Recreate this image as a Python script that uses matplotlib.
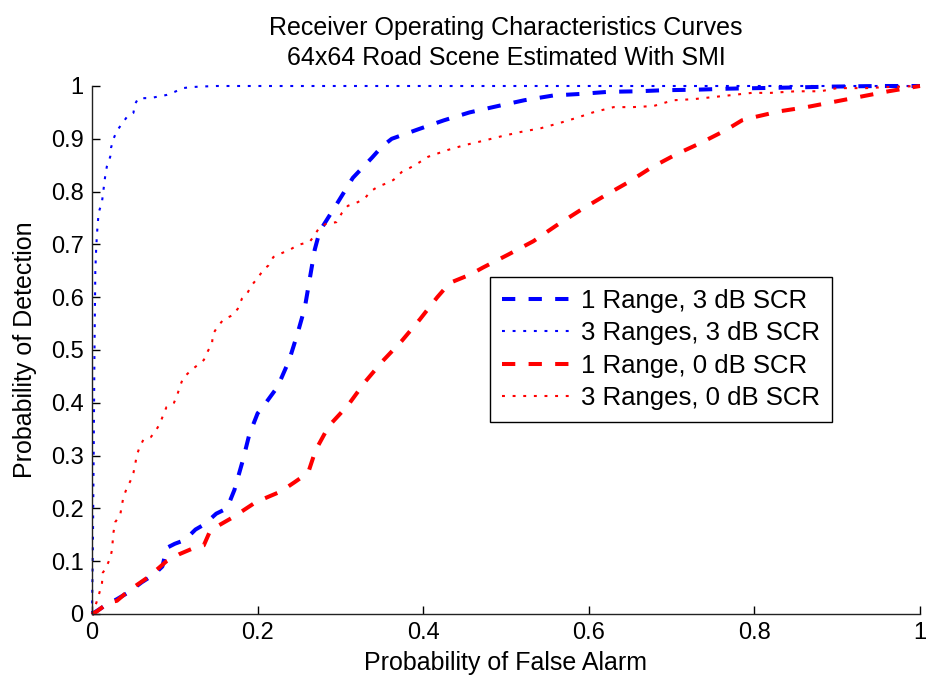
import matplotlib
matplotlib.use("Agg")
import matplotlib.pyplot as plt

plt.rcParams['font.family'] = ['Liberation Sans', 'DejaVu Sans']

title_lines = ["Receiver Operating Characteristics Curves",
               "64x64 Road Scene Estimated With SMI"]
x_label = "Probability of False Alarm"
y_label = "Probability of Detection"
series_names = ["1 Range, 3 dB SCR", "3 Ranges, 3 dB SCR",
                "1 Range, 0 dB SCR", "3 Ranges, 0 dB SCR"]

x_ticks = [0, 0.2, 0.4, 0.6, 0.8, 1]
x_tick_labels = ["0", "0.2", "0.4", "0.6", "0.8", "1"]
y_ticks = [0, 0.1, 0.2, 0.3, 0.4, 0.5, 0.6, 0.7, 0.8, 0.9, 1]
y_tick_labels = ["0", "0.1", "0.2", "0.3", "0.4", "0.5", "0.6", "0.7", "0.8", "0.9", "1"]

# 1 range, 3 dB SCR
pfa_1r_3db = [0, 0.02, 0.03, 0.045, 0.06, 0.075, 0.085, 0.088, 0.09, 0.1,
              0.112, 0.125, 0.136, 0.15, 0.163, 0.172, 0.182, 0.19, 0.2, 0.21,
              0.224, 0.238, 0.248, 0.257, 0.263, 0.269, 0.275, 0.283, 0.297, 0.315,
              0.338, 0.35, 0.362, 0.394, 0.425, 0.456, 0.49, 0.522, 0.557, 0.59,
              0.624, 0.66, 0.69, 0.73, 0.77, 0.805, 0.84, 0.87, 0.9, 0.95, 1.0]
pd_1r_3db = [0, 0.02, 0.028, 0.042, 0.06, 0.075, 0.09, 0.11, 0.125, 0.133,
             0.14, 0.16, 0.17, 0.19, 0.2, 0.235, 0.29, 0.34, 0.38, 0.4,
             0.43, 0.48, 0.53, 0.58, 0.635, 0.69, 0.725, 0.745, 0.78, 0.826,
             0.864, 0.885, 0.9, 0.918, 0.935, 0.95, 0.962, 0.973, 0.982, 0.985,
             0.989, 0.99, 0.992, 0.993, 0.995, 0.996, 0.997, 0.998, 0.999, 1.0, 1.0]

# 3 ranges, 3 dB SCR
pfa_3r_3db = [0, 0.001, 0.002, 0.003, 0.004, 0.005, 0.006, 0.008, 0.012, 0.016,
              0.018, 0.022, 0.023, 0.026, 0.03, 0.036, 0.042, 0.05, 0.052, 0.056,
              0.07, 0.08, 0.09, 0.1, 0.11, 0.12, 0.133, 0.15, 1.0]
pd_3r_3db = [0, 0.12, 0.3, 0.5, 0.65, 0.69, 0.72, 0.76, 0.78, 0.83,
             0.848, 0.866, 0.883, 0.9, 0.915, 0.928, 0.941, 0.949, 0.966, 0.977,
             0.977, 0.98, 0.983, 0.989, 0.996, 0.998, 0.999, 1.0, 1.0]

# 1 range, 0 dB SCR
pfa_1r_0db = [0, 0.006, 0.02, 0.03, 0.045, 0.068, 0.09, 0.105, 0.12, 0.135,
              0.142, 0.15, 0.17, 0.198, 0.228, 0.245, 0.256, 0.262, 0.27, 0.286,
              0.309, 0.33, 0.351, 0.374, 0.396, 0.417, 0.432, 0.457, 0.472, 0.503,
              0.533, 0.561, 0.59, 0.62, 0.648, 0.676, 0.706, 0.735, 0.765, 0.785,
              0.797, 0.83, 0.863, 0.896, 0.929, 0.962, 1.0]
pd_1r_0db = [0, 0.005, 0.022, 0.025, 0.045, 0.07, 0.1, 0.113, 0.123, 0.13,
             0.155, 0.165, 0.183, 0.212, 0.232, 0.25, 0.262, 0.272, 0.31, 0.356,
             0.395, 0.44, 0.479, 0.517, 0.558, 0.6, 0.627, 0.643, 0.656, 0.681,
             0.706, 0.736, 0.765, 0.793, 0.818, 0.846, 0.871, 0.892, 0.916, 0.935,
             0.94, 0.952, 0.96, 0.97, 0.98, 0.99, 1.0]

# 3 ranges, 0 dB SCR
pfa_3r_0db = [0, 0.003, 0.008, 0.012, 0.013, 0.017, 0.022, 0.024, 0.026, 0.028,
              0.034, 0.036, 0.038, 0.042, 0.047, 0.05, 0.052, 0.054, 0.057, 0.062,
              0.071, 0.076, 0.082, 0.086, 0.09, 0.099, 0.103, 0.106, 0.11, 0.12,
              0.128, 0.135, 0.14, 0.145, 0.146, 0.152, 0.159, 0.17, 0.176, 0.181,
              0.187, 0.193, 0.2, 0.207, 0.213, 0.219, 0.23, 0.239, 0.249, 0.263,
              0.269, 0.275, 0.284, 0.295, 0.302, 0.309, 0.321, 0.33, 0.336, 0.345,
              0.356, 0.364, 0.374, 0.384, 0.394, 0.406, 0.43, 0.45, 0.472, 0.495,
              0.518, 0.542, 0.565, 0.586, 0.605, 0.63, 0.653, 0.678, 0.702, 0.726,
              0.75, 0.774, 0.797, 0.82, 0.85, 0.88, 0.9, 0.935, 0.96, 1.0]
pd_3r_0db = [0, 0.01, 0.035, 0.057, 0.078, 0.088, 0.106, 0.12, 0.155, 0.174,
             0.187, 0.205, 0.222, 0.238, 0.254, 0.267, 0.282, 0.3, 0.314, 0.33,
             0.335, 0.345, 0.36, 0.377, 0.392, 0.4, 0.415, 0.43, 0.447, 0.462,
             0.472, 0.481, 0.498, 0.513, 0.53, 0.545, 0.558, 0.566, 0.578, 0.597,
             0.606, 0.623, 0.636, 0.652, 0.66, 0.676, 0.684, 0.69, 0.699, 0.705,
             0.718, 0.733, 0.74, 0.742, 0.76, 0.773, 0.78, 0.788, 0.8, 0.809,
             0.816, 0.822, 0.837, 0.845, 0.854, 0.866, 0.879, 0.888, 0.896, 0.905,
             0.913, 0.92, 0.93, 0.94, 0.95, 0.96, 0.96, 0.962, 0.973, 0.975,
             0.979, 0.983, 0.987, 0.987, 0.99, 0.99, 0.996, 0.996, 0.998, 1.0]

fig = plt.figure(figsize=(9.28, 6.82), dpi=100)
ax = fig.add_axes([92 / 928, 68 / 682, 828 / 928, 528 / 682])

dash_lw = 2.9
dot_lw = 1.5
dashed = (0, (3.3, 3.3))
dotted = (0, (1.4, 3.7))

ax.plot(pfa_1r_3db, pd_1r_3db, color=(0, 0, 1), lw=dash_lw, ls=dashed,
        label=series_names[0], clip_on=False)
ax.plot(pfa_3r_3db, pd_3r_3db, color=(0, 0, 1), lw=dot_lw, ls=dotted,
        label=series_names[1], clip_on=False)
ax.plot(pfa_1r_0db, pd_1r_0db, color=(1, 0, 0), lw=dash_lw, ls=dashed,
        label=series_names[2], clip_on=False)
ax.plot(pfa_3r_0db, pd_3r_0db, color=(1, 0, 0), lw=dot_lw, ls=dotted,
        label=series_names[3], clip_on=False)

ax.set_xlim(0, 1)
ax.set_ylim(0, 1)
ax.set_xticks(x_ticks)
ax.set_xticklabels(x_tick_labels)
ax.set_yticks(y_ticks)
ax.set_yticklabels(y_tick_labels)
ax.tick_params(direction='in', length=6, width=1, labelsize=17, pad=6)

for side in ('top', 'right'):
    ax.spines[side].set_visible(False)
for side in ('left', 'bottom'):
    ax.spines[side].set_linewidth(1.0)
    ax.spines[side].set_color('#222222')

ax.set_xlabel(x_label, fontsize=18, labelpad=5)
ax.set_ylabel(y_label, fontsize=18, labelpad=10)
ax.set_title("\n".join(title_lines), fontsize=18, pad=15, linespacing=1.35)

leg = ax.legend(loc='upper left', bbox_to_anchor=((490 - 92) / 828, (614 - 277) / 528),
                borderaxespad=0, fontsize=18.5, frameon=True, fancybox=False,
                framealpha=1, edgecolor='black', handlelength=2.8,
                handletextpad=0.3, labelspacing=0.33, borderpad=0.45)
leg.get_frame().set_linewidth(1.0)

fig.savefig("out.png", dpi=100)
